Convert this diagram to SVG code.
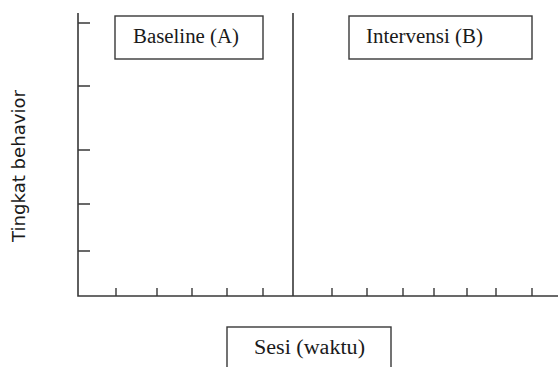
<svg xmlns="http://www.w3.org/2000/svg" width="558" height="367" viewBox="0 0 558 367">
<style>
.ax{stroke:#383838;stroke-width:1.6;fill:none}
.tk{stroke:#383838;stroke-width:1.4;fill:none}
.box{fill:#fff;stroke:#383838;stroke-width:1.4}
.lbl{font-family:"Liberation Serif","DejaVu Serif",serif;font-size:20px;fill:#1a1a1a}
.yl{font-family:"DejaVu Sans","Liberation Sans",sans-serif;font-size:18px;fill:#1a1a1a}
</style>
<rect width="558" height="367" fill="#fff"/>
<g id="connectors">
<path class="ax" d="M78 13V296H558"/>
<path class="ax" d="M293 13V296"/>
<path class="tk" d="M78 23H90M78 86H90M78 150H90M78 204H90M78 251H90"/>
<path class="tk" d="M116 296V288M157 296V288M192 296V288M227 296V288M263 296V288M332 296V288M367 296V288M403 296V288M434 296V288M467 296V288M496 296V288M532 296V288"/>
</g>
<g id="baseline">
<rect class="box" x="115" y="16" width="148" height="43"/>
<text class="lbl" x="133" y="43" textLength="106" lengthAdjust="spacingAndGlyphs">Baseline (A)</text>
</g>
<g id="intervensi">
<rect class="box" x="349" y="16" width="183" height="43"/>
<text class="lbl" x="366" y="43" textLength="117" lengthAdjust="spacingAndGlyphs">Intervensi (B)</text>
</g>
<g id="sesi">
<rect class="box" x="227" y="327" width="164" height="50"/>
<text class="lbl" x="254" y="354" textLength="111" lengthAdjust="spacingAndGlyphs">Sesi (waktu)</text>
</g>
<g id="ylabel">
<text class="yl" transform="translate(25 166) rotate(-90)" text-anchor="middle" textLength="152" lengthAdjust="spacingAndGlyphs">Tingkat behavior</text>
</g>
</svg>
